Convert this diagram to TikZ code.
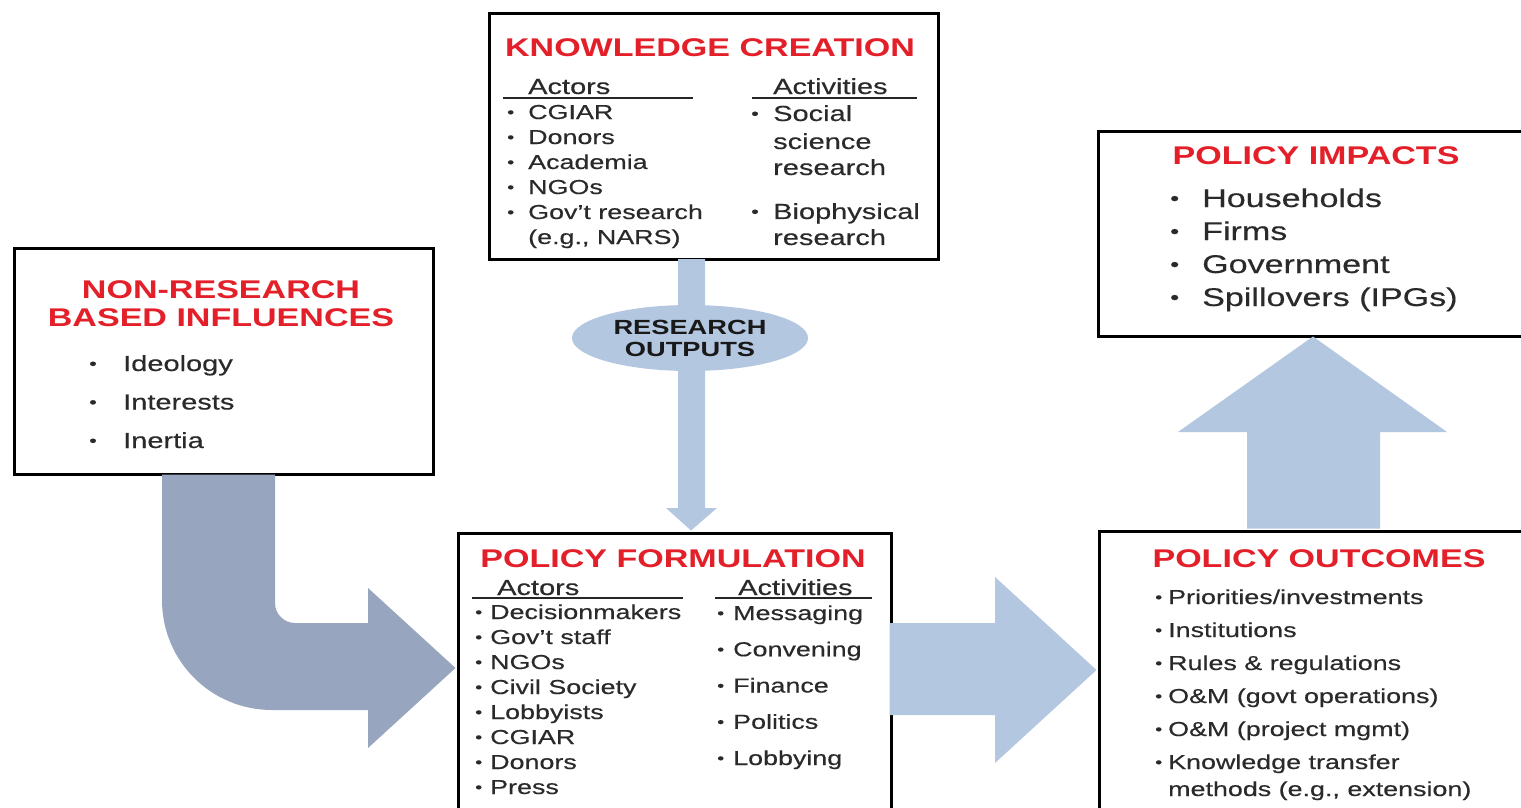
\documentclass[tikz,border=0pt]{standalone}
\usepackage{fontspec}
\usepackage{graphicx}
\setmainfont{Liberation Sans}[FakeStretch=1.33, UprightFeatures={FakeBold=0.35}]
\usetikzlibrary{shapes.geometric}
\definecolor{redt}{HTML}{E3202A}
\definecolor{txt}{HTML}{2A2A2A}
\definecolor{lblue}{HTML}{B4C7E0}
\definecolor{gblue}{HTML}{97A6BE}
\newcommand\mybul[1]{\makebox[#1][l]{\raisebox{0.08em}{\scalebox{0.75}{•}}}}
\newcommand\mylist[1]{\begin{tabular}[t]{@{}l@{}}#1\end{tabular}}
\begin{document}
\begin{tikzpicture}[x=1pt,y=-1pt,
  box/.style={draw=black, line width=3pt, fill=white, inner sep=0pt, anchor=north west},
  ttl/.style={font=\fontsize{25.6}{28}\selectfont\bfseries, text=redt, inner sep=0pt, anchor=base},
  hdr/.style={font=\fontsize{21.8}{24}\selectfont, text=txt, inner sep=0pt, anchor=base west},
  lst/.style={text=txt, inner sep=0pt, anchor=base west},
  uline/.style={draw=black!85, line width=1.6pt},
  lightarrow/.style={fill=lblue},
  curvearrow/.style={fill=gblue}]
\clip (0,0) rectangle (1521,808);
\fill[white] (0,0) rectangle (1521,808);

% boxes (nodes)
\node[box, minimum width=449pt, minimum height=246pt] (kc) at (488,12) {};
\node[box, minimum width=419pt, minimum height=226pt] (nr) at (13,247) {};
\node[box, minimum width=440pt, minimum height=205pt] (pi) at (1097,130) {};
\node[box, minimum width=433pt, minimum height=290pt] (pf) at (457,532) {};
\node[box, minimum width=440pt, minimum height=290pt] (po) at (1098,530) {};

% arrows
\fill[lightarrow] (678,259) -- (678,508) -- (666,508) -- (691,530.5) -- (717,508) -- (705,508) -- (705,259) -- cycle;
\fill[lightarrow] (889.5,623) -- (995,623) -- (995,577) -- (1096.5,670) -- (995,763) -- (995,715) -- (889.5,715) -- cycle;
\fill[lightarrow] (1247,528.5) -- (1247,432) -- (1178,432) -- (1313,336.5) -- (1447,432) -- (1380,432) -- (1380,528.5) -- cycle;
\fill[curvearrow] (162,474.5) -- (162,600) .. controls (162,661) and (211,710) .. (272,710)
  -- (368,710) -- (368,748) -- (455.5,668) -- (368,588) -- (368,623) -- (295,623)
  .. controls (284,623) and (275,614) .. (275,603) -- (275,474.5) -- cycle;

% research outputs
\node[ellipse, fill=lblue, minimum width=236pt, minimum height=66pt, inner sep=0pt,
  align=center, text=black!90, font=\fontsize{20.5}{22}\selectfont\bfseries] (ro) at (690,338) {RESEARCH\\OUTPUTS};

% Knowledge creation
\node[ttl] (kct) at (710,56.5) {KNOWLEDGE CREATION};
\node[hdr] (kch1) at (528,94) {Actors};
\node[hdr] (kch2) at (773,94) {Activities};
\draw[uline] (503,98) -- (693,98);
\draw[uline] (752,98) -- (917,98);
\node[lst, font=\fontsize{20.2}{25}\selectfont] (kcl1) at (507,119) {\mylist{%
\mybul{21pt}CGIAR\\ \mybul{21pt}Donors\\ \mybul{21pt}Academia\\ \mybul{21pt}NGOs\\
\mybul{21pt}Gov't research\\ \hspace*{21pt}(e.g., NARS)}};
\node[lst, font=\fontsize{21.8}{26}\selectfont] (kcl2) at (751,121) {\mylist{%
\mybul{22pt}Social\\[2pt] \hspace*{22pt}science\\ \hspace*{22pt}research\\[18pt]
\mybul{22pt}Biophysical\\ \hspace*{22pt}research}};

% Non-research
\node[ttl] (nrt1) at (221,298) {NON-RESEARCH};
\node[ttl] (nrt2) at (221,326) {BASED INFLUENCES};
\node[lst, font=\fontsize{21.8}{38.5}\selectfont] (nrl) at (89,371) {\mylist{%
\mybul{34pt}Ideology\\ \mybul{34pt}Interests\\ \mybul{34pt}Inertia}};

% Policy impacts
\node[ttl] (pit) at (1316,164) {POLICY IMPACTS};
\node[lst, font=\fontsize{25.6}{33}\selectfont] (pil) at (1170,207) {\mylist{%
\mybul{32pt}Households\\ \mybul{32pt}Firms\\ \mybul{32pt}Government\\ \mybul{32pt}Spillovers (IPGs)}};

% Policy formulation
\node[ttl] (pft) at (673,567) {POLICY FORMULATION};
\node[hdr] (pfh1) at (497,595) {Actors};
\node[hdr] (pfh2) at (738,595) {Activities};
\draw[uline] (472,598) -- (683,598);
\draw[uline] (715,598) -- (872,598);
\node[lst, font=\fontsize{20.2}{25}\selectfont] (pfl1) at (475,619) {\mylist{%
\mybul{15pt}Decisionmakers\\ \mybul{15pt}Gov't staff\\ \mybul{15pt}NGOs\\ \mybul{15pt}Civil Society\\
\mybul{15pt}Lobbyists\\ \mybul{15pt}CGIAR\\ \mybul{15pt}Donors\\ \mybul{15pt}Press}};
\node[lst, font=\fontsize{20.2}{36.25}\selectfont] (pfl2) at (717,620) {\mylist{%
\mybul{16pt}Messaging\\ \mybul{16pt}Convening\\ \mybul{16pt}Finance\\ \mybul{16pt}Politics\\ \mybul{16pt}Lobbying}};

% Policy outcomes
\node[ttl] (pot) at (1319,567) {POLICY OUTCOMES};
\node[lst, font=\fontsize{20.2}{33}\selectfont] (pol) at (1155,604) {\mylist{%
\mybul{13pt}Priorities/investments\\ \mybul{13pt}Institutions\\ \mybul{13pt}Rules \& regulations\\
\mybul{13pt}O\&M (govt operations)\\ \mybul{13pt}O\&M (project mgmt)\\ \mybul{13pt}Knowledge transfer\\[-6pt]
\hspace*{13pt}methods (e.g., extension)}};
\end{tikzpicture}
\end{document}
